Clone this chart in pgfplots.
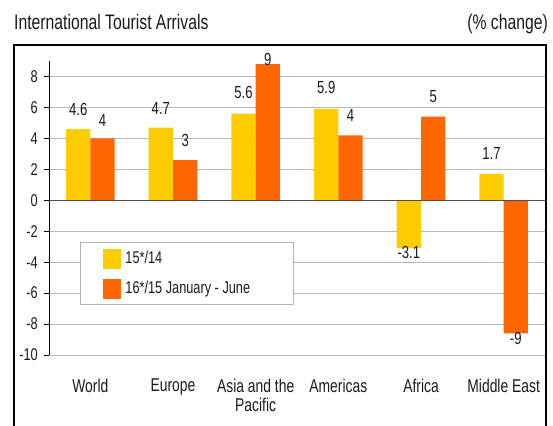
\documentclass[border=0pt]{standalone}
\usepackage{fontspec}
\setmainfont{Liberation Sans}[FakeStretch=0.75]
\usepackage{pgfplots}
\pgfplotsset{compat=1.18}
\usepackage{pgfplotstable}
\definecolor{cyel}{HTML}{FFCC00}
\definecolor{cora}{HTML}{FF6600}
\definecolor{txt}{HTML}{1A1A1A}
\pgfplotstableread{
x y lab off
0 4.6 4.6 13
1 4.7 4.7 13
2 5.6 5.6 15
3 5.9 5.9 15
4 -3.1 -3.1 -11
5 1.7 1.7 14
}\tabA
\pgfplotstableread{
x y lab off
0 4.0 4 12
1 2.6 3 13
2 8.8 9 -2
3 4.2 4 14
4 5.4 5 14
5 -8.6 -9 -12
}\tabB
\begin{document}
\begin{tikzpicture}[x=1bp,y=1bp]
\useasboundingbox (0,0) rectangle (553,425);
\draw[black, line width=1.2bp] (14,-2) -- (14,380) -- (546,380) -- (546,-2);
\node[anchor=base west, inner sep=0pt, font=\fontsize{21bp}{24bp}\selectfont, text=txt] at (14,395) {International Tourist Arrivals};
\node[anchor=base east, inner sep=0pt, font=\fontsize{21bp}{24bp}\selectfont, text=txt] at (548,395) {(\% change)};
\begin{axis}[
  at={(49bp,70bp)}, anchor=south west, scale only axis,
  width=496bp, height=294bp,
  xmin=-0.5, xmax=5.5, ymin=-10, ymax=9,
  clip=false,
  axis lines*=left,
  x axis line style={draw=none},
  y axis line style={black, line width=0.8bp},
  xtick={0,1,2,3,4,5},
  xticklabels={World,Europe,{Asia and the\\Pacific},Americas,Africa,Middle East},
  xticklabel style={align=center, font=\fontsize{18.5bp}{19bp}\selectfont, text=txt, inner sep=0pt, anchor=north, yshift=-19bp},
  xtick style={draw=none},
  ytick={-10,-8,-6,-4,-2,0,2,4,6,8},
  yticklabels={-10,-8,-6,-4,-2,0,2,4,6,8},
  yticklabel style={font=\fontsize{17bp}{19bp}\selectfont, text=txt, inner sep=0pt, xshift=-6bp},
  tick align=outside, major tick length=5bp,
  ytick style={black, line width=0.8bp},
  ymajorgrids, grid style={black!28, line width=1bp},
  ybar=0pt, bar width=24.3bp,
  nodes near coords, point meta=explicit symbolic,
  visualization depends on={\thisrow{off} \as \myoff},
  nodes near coords style={font=\fontsize{17.5bp}{19bp}\selectfont, text=txt, inner sep=0pt, yshift=\myoff bp},
  legend cell align=left,
  legend image code/.code={\path (0bp,-10bp) rectangle (18bp,10bp); \fill[#1,/tikz/.cd,draw=none] (5bp,-6bp) rectangle (18bp,6.5bp);},
  legend style={at={(0.0625,0.384)}, anchor=north west, draw=black!30, line width=0.9bp, fill=white,
    inner xsep=23bp, inner ysep=6bp, /tikz/row sep=10bp, /tikz/column sep=4bp,
    font=\fontsize{17bp}{19bp}\selectfont, text=txt, nodes={inner sep=0pt}},
]
\addplot[fill=cyel, draw=none] table[x=x, y=y, meta=lab] {\tabA};
\addplot[fill=cora, draw=none] table[x=x, y=y, meta=lab] {\tabB};
\draw[black!70, line width=1bp] (axis cs:-0.5,0) -- (axis cs:5.5,0);
\legend{\makebox[145bp][l]{15*/14}, \makebox[145bp][l]{16*/15 January - June}}
\end{axis}
\end{tikzpicture}
\end{document}
